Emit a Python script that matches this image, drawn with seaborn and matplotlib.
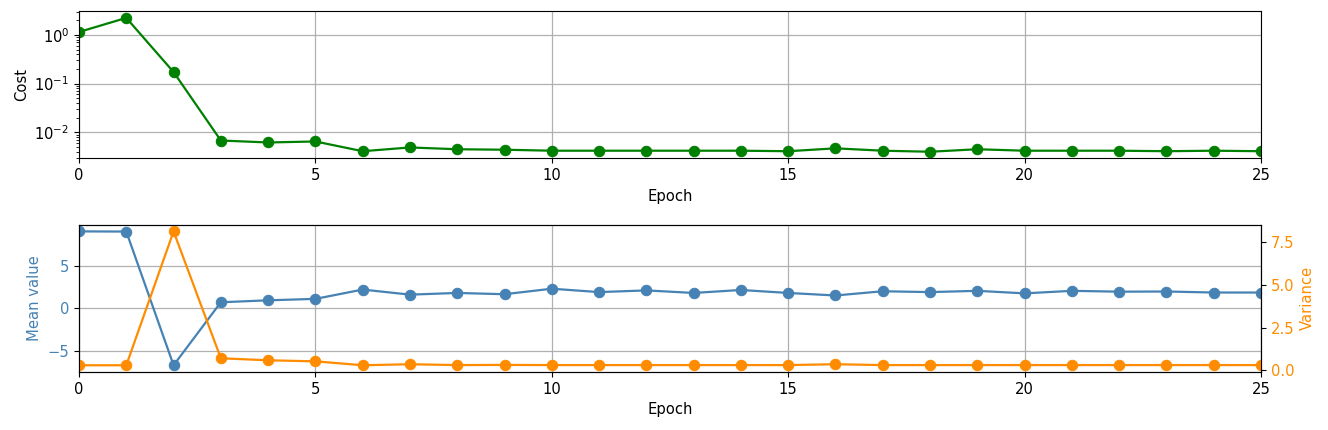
import numpy as np
import pandas as pd
import matplotlib
matplotlib.use('Agg')
import matplotlib.pyplot as plt
import seaborn as sns

# valores
epochs = list(range(26))
cost = [1.15, 2.24, 0.173, 0.0068, 0.0062, 0.0065, 0.0041, 0.0049, 0.0045, 0.0044,
        0.0042, 0.0042, 0.0042, 0.0042, 0.0042, 0.0041, 0.0047, 0.0042, 0.0040, 0.0045,
        0.0042, 0.0042, 0.0042, 0.0041, 0.0042, 0.0041]
mean_value = [9.07, 9.05, -6.74, 0.7, 0.93, 1.1, 2.2, 1.6, 1.8, 1.65,
              2.3, 1.9, 2.1, 1.8, 2.15, 1.8, 1.5, 2.0, 1.9, 2.05,
              1.75, 2.05, 1.95, 1.97, 1.85, 1.85]
variance = [0.29, 0.29, 8.14, 0.70, 0.58, 0.52, 0.29, 0.35, 0.30, 0.31,
            0.30, 0.30, 0.30, 0.30, 0.30, 0.30, 0.35, 0.30, 0.30, 0.30,
            0.30, 0.30, 0.30, 0.30, 0.30, 0.30]
var_ticks = [0.0, 2.5, 5.0, 7.5]
epoch_ticks = [0, 5, 10, 15, 20, 25]

df = pd.DataFrame({'Epoch': epochs, 'Cost': cost, 'Mean': mean_value, 'Variance': variance})

plt.rcParams['font.size'] = 10.6

fig, (ax1, ax3) = plt.subplots(2, 1, figsize=(13.28, 4.3), dpi=100)
fig.subplots_adjust(left=0.0595, right=0.9495, top=0.974, bottom=0.135, hspace=0.45)

line_kw = dict(marker='o', markersize=7.5, linewidth=1.6)

# Custo
sns.lineplot(data=df, x='Epoch', y='Cost', ax=ax1, color='green',
             markeredgecolor='green', **line_kw)
ax1.set_yscale('log')
ax1.set_xlim(0, 25)
ax1.set_xticks(epoch_ticks)
ax1.set_xlabel('Epoch')
ax1.set_ylabel('Cost')
ax1.grid(True, color='#b0b0b0', linewidth=0.9)

# Média e variância
sns.lineplot(data=df, x='Epoch', y='Mean', ax=ax3, color='steelblue',
             markeredgecolor='steelblue', **line_kw)
ax3.set_xlim(0, 25)
ax3.set_xticks(epoch_ticks)
ax3.set_xlabel('Epoch')
ax3.set_ylabel('Mean value', color='steelblue')
ax3.tick_params(axis='y', labelcolor='steelblue')
ax3.grid(True, color='#b0b0b0', linewidth=0.9)

ax4 = ax3.twinx()
sns.lineplot(data=df, x='Epoch', y='Variance', ax=ax4, color='darkorange',
             markeredgecolor='darkorange', **line_kw)
ax4.set_yticks(var_ticks)
ax4.set_ylabel('Variance', color='darkorange')
ax4.tick_params(axis='y', labelcolor='darkorange')
ax4.set_xlim(0, 25)

plt.savefig('out.png', dpi=100)
